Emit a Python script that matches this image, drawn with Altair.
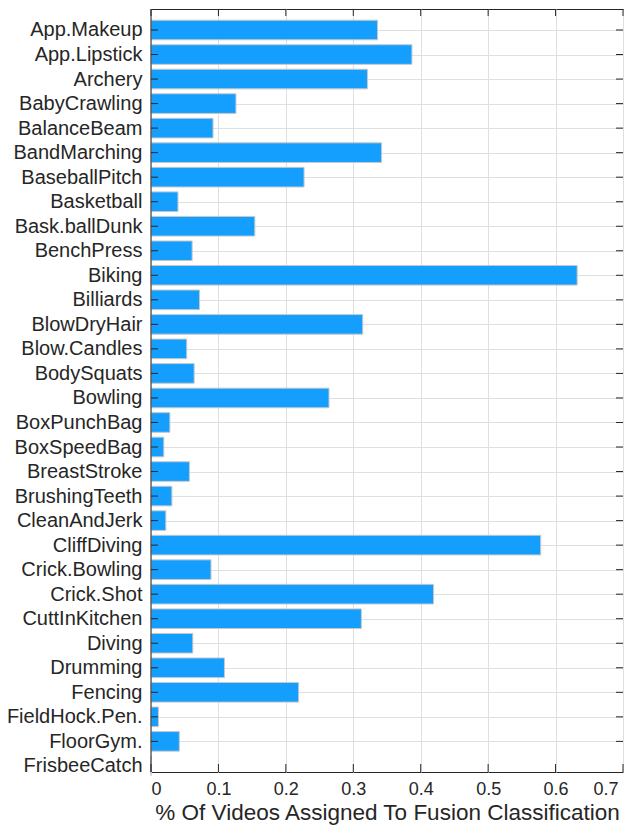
import json
import altair as alt
import pandas as pd

categories = [
    "App.Makeup", "App.Lipstick", "Archery", "BabyCrawling", "BalanceBeam",
    "BandMarching", "BaseballPitch", "Basketball", "Bask.ballDunk", "BenchPress",
    "Biking", "Billiards", "BlowDryHair", "Blow.Candles", "BodySquats",
    "Bowling", "BoxPunchBag", "BoxSpeedBag", "BreastStroke", "BrushingTeeth",
    "CleanAndJerk", "CliffDiving", "Crick.Bowling", "Crick.Shot", "CuttInKitchen",
    "Diving", "Drumming", "Fencing", "FieldHock.Pen.", "FloorGym.", "FrisbeeCatch",
]
values = [
    0.336, 0.387, 0.321, 0.126, 0.092,
    0.342, 0.227, 0.040, 0.154, 0.061,
    0.632, 0.072, 0.314, 0.053, 0.064,
    0.264, 0.028, 0.019, 0.057, 0.031,
    0.022, 0.578, 0.089, 0.419, 0.312,
    0.062, 0.109, 0.219, 0.011, 0.042, 0.0,
]
x_ticks = [0, 0.1, 0.2, 0.3, 0.4, 0.5, 0.6, 0.7]
x_title = "% Of Videos Assigned To Fusion Classification"

W, H = 472, 763
DARK = "#262626"
FONT = "Liberation Sans"

idx = list(range(len(categories)))
df = pd.DataFrame({"idx": idx, "cat": categories, "value": values})
df_yt = pd.DataFrame({"idx": idx[:-1]})
df_xt = pd.DataFrame({"t": x_ticks})

label_expr = "[" + ",".join(json.dumps(c) for c in categories) + "][datum.value]"

xscale = alt.Scale(domain=[0, 0.7], nice=False, zero=False)
yscale = alt.Scale(domain=[-0.856, 30.249], reverse=True, nice=False, zero=False)

x_axis = alt.Axis(
    values=x_ticks,
    format="~g",
    title=x_title,
    labelFontSize=18,
    labelPadding=8,
    labelOffset=alt.condition("datum.value >= 0.69", alt.value(-5), alt.value(0)),
    titleFontSize=22.5,
    titlePadding=3.5,
    titleFont=FONT,
    titleFontWeight="normal",
    titleColor=DARK,
)
y_axis = alt.Axis(
    values=idx,
    labelExpr=label_expr,
    title=None,
    labelFontSize=20,
    labelPadding=9,
    gridOpacity=alt.condition("datum.value >= 30", alt.value(0), alt.value(1)),
)

bars = (
    alt.Chart(df)
    .transform_calculate(lo="datum.idx - 0.4", hi="datum.idx + 0.4", zero="0")
    .mark_bar(color="#149FFF", stroke="#C8C8C8", strokeWidth=1)
    .encode(
        x=alt.X("value:Q", scale=xscale, axis=x_axis),
        x2="zero:Q",
        y=alt.Y("lo:Q", scale=yscale, axis=y_axis),
        y2="hi:Q",
    )
)

rule = alt.Chart(df_yt).mark_rule(color=DARK, strokeWidth=1)
left_ticks = rule.encode(y=alt.Y("idx:Q", scale=yscale, axis=y_axis), x=alt.value(0), x2=alt.value(7))
right_ticks = rule.encode(y=alt.Y("idx:Q", scale=yscale, axis=y_axis), x=alt.value(W - 7), x2=alt.value(W))

xrule = alt.Chart(df_xt).mark_rule(color=DARK, strokeWidth=1)
bottom_ticks = xrule.encode(x=alt.X("t:Q", scale=xscale, axis=x_axis), y=alt.value(H - 8), y2=alt.value(H))
top_ticks = xrule.encode(x=alt.X("t:Q", scale=xscale, axis=x_axis), y=alt.value(0), y2=alt.value(7))
left_border = xrule.transform_filter("datum.t == 0").encode(
    x=alt.X("t:Q", scale=xscale, axis=x_axis), y=alt.value(0), y2=alt.value(H)
)

chart = (
    alt.layer(bars, left_ticks, right_ticks, bottom_ticks, top_ticks, left_border)
    .properties(
        width=W,
        height=H,
        autosize=alt.AutoSizeParams(type="none"),
        padding={"left": 143, "top": 1, "right": 7, "bottom": 54},
        background="white",
    )
    .configure_view(stroke=DARK, strokeWidth=1)
    .configure_axis(
        domain=False,
        ticks=False,
        tickSize=0,
        grid=True,
        gridColor="#DFDFDF",
        gridWidth=1,
        labelFont=FONT,
        labelColor=DARK,
    )
)

chart.save("out.html", embed_options={"renderer": "svg", "actions": False})
